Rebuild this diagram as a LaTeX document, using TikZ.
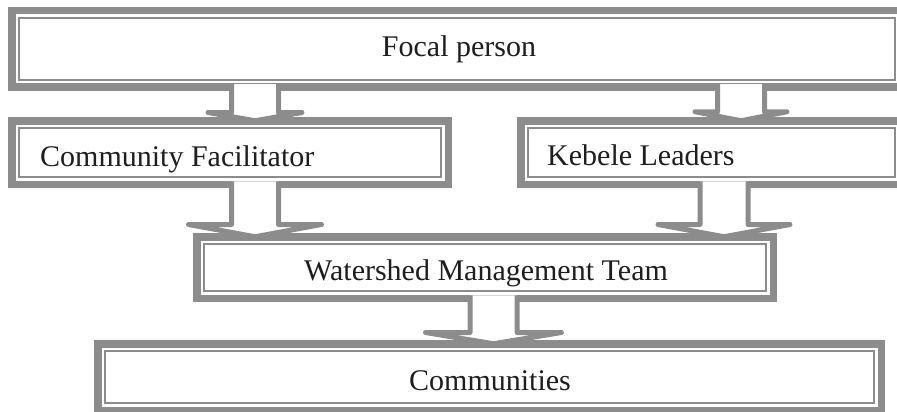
\documentclass[tikz,border=0pt]{standalone}
\usepackage{fontspec}
\setmainfont{Liberation Serif}
\usetikzlibrary{calc}
\definecolor{bandgray}{RGB}{140,140,140}
\definecolor{txt}{RGB}{30,30,30}
\tikzset{
  frame/.style={rectangle, draw=bandgray, line width=7.5pt, fill=white, outer sep=0pt, inner sep=0pt},
  innerline/.style={draw=bandgray, line width=1.5pt},
  arr/.style={draw=bandgray, fill=white, line width=5pt, line join=round},
  lbl/.style={text=txt, inner sep=0pt, font=\fontsize{30}{36}\selectfont}
}
\newcommand\innerframe[1]{%
  \draw[innerline] ([shift={(7.25pt,-7.25pt)}]#1.north west) rectangle ([shift={(-7.25pt,7.25pt)}]#1.south east);}
\newcommand\blockarr[6]{%
  \filldraw[arr] let \p1=(#1.south), \p2=(#2.north) in
    (#3pt-#4pt,\y1+3pt) -- (#3pt-#4pt,\y2+#6pt) -- (#3pt-#5pt,\y2+#6pt) -- (#3pt,\y2)
    -- (#3pt+#5pt,\y2+#6pt) -- (#3pt+#4pt,\y2+#6pt) -- (#3pt+#4pt,\y1+3pt);}
\begin{document}
\begin{tikzpicture}[x=1pt,y=-1pt]
\useasboundingbox (0,0) rectangle (897,412);
\clip (0,0) rectangle (897,412);
% boxes
\node[frame, minimum width=890.5pt, minimum height=76.5pt] (focal) at (457,49) {};
\node[frame, minimum width=436.5pt, minimum height=63.5pt] (cf) at (230,152.5) {};
\node[frame, minimum width=381.5pt, minimum height=63.5pt] (kl) at (711.5,152.5) {};
\node[frame, minimum width=576.5pt, minimum height=61.5pt] (wmt) at (485,267.5) {};
\node[frame, minimum width=783.5pt, minimum height=66.5pt] (com) at (489.5,377) {};
\innerframe{focal}
\innerframe{cf}
\innerframe{kl}
\innerframe{wmt}
\innerframe{com}
% arrows
\blockarr{focal}{cf}{255}{23.5}{47}{8.25}
\blockarr{focal}{kl}{741}{23.5}{46}{9}
\blockarr{cf}{wmt}{255}{23.5}{66.5}{12.25}
\blockarr{kl}{wmt}{724}{24}{66}{12.25}
\blockarr{wmt}{com}{493.5}{23.5}{68}{11.25}
% labels
\node[lbl, anchor=base] (tfocal) at (459,57) {Focal person};
\node[lbl, anchor=base west] (tcf) at (40,166) {Community Facilitator};
\node[lbl, anchor=base west] (tkl) at (547,165) {Kebele Leaders};
\node[lbl, anchor=base] (twmt) at (486,280) {Watershed Management Team};
\node[lbl, anchor=base] (tcom) at (490,390) {Communities};
\end{tikzpicture}
\end{document}
